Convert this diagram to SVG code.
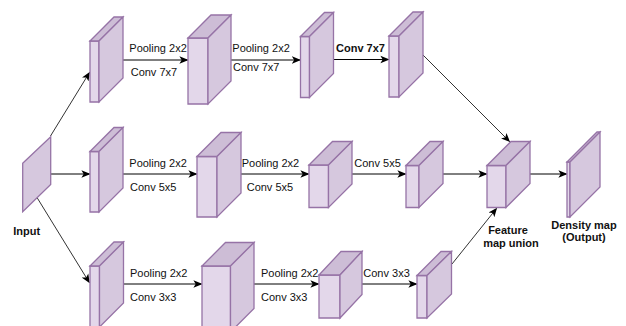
<svg xmlns="http://www.w3.org/2000/svg" width="626" height="326" viewBox="0 0 626 326">
<style>
.f{fill:#E3D7EA;stroke:#9673A6;stroke-width:1.3}
.s{fill:#D6C8DE;stroke:#9673A6;stroke-width:1.3}
.t{fill:#CDBDD6;stroke:#9673A6;stroke-width:1.3}
.lbl{font-family:"Liberation Sans",Arial,sans-serif;font-size:11px;fill:#111}
.b{font-weight:bold}
.c{stroke:#000;stroke-width:1;fill:none;marker-end:url(#ah)}
.d{stroke:#333;stroke-width:1;fill:none;marker-end:url(#ah)}
</style>
<defs>
<marker id="ah" viewBox="0 0 10 10" refX="9" refY="5" markerWidth="9" markerHeight="9" markerUnits="userSpaceOnUse" orient="auto">
<path d="M0,0.8 L10,5 L0,9.2 L2.5,5 Z" fill="#000"/>
</marker>
</defs>
<rect width="626" height="326" fill="#fff"/>

<g id="connectors">
<path class="d" d="M50.5,136 L89.5,72.5"/>
<path class="c" d="M50.7,174 L89.5,174"/>
<path class="d" d="M37.3,198 L89.3,282.5"/>
<path class="c" d="M123,60 L187.5,60"/>
<path class="c" d="M231,60 L300,60"/>
<path class="c" d="M333.5,59.5 L388.5,59.5"/>
<path class="c" d="M123,174 L196.5,174"/>
<path class="c" d="M241,174 L308.5,174"/>
<path class="c" d="M352,174 L405.5,174"/>
<path class="c" d="M443,174 L486.5,174"/>
<path class="c" d="M530,174 L566.5,174"/>
<path class="c" d="M123,284 L201.5,284"/>
<path class="c" d="M254,284 L318.5,284"/>
<path class="c" d="M362,284 L416.5,284"/>
<path class="d" d="M423,55 L509.5,141.5"/>
<path class="d" d="M452,264 L496.5,208.5"/>
</g>

<g id="input">
<path class="s" d="M22.7,163.3 L50.7,136.7 L50.7,184.5 L22.7,211.7 Z"/>
<text class="lbl b" x="13.3" y="235">Input</text>
</g>

<g id="t1">
<path class="f" d="M90,41 H99 V102 H90 Z"/>
<path class="t" d="M90,41 L114,17 H123 L99,41 Z"/>
<path class="s" d="M99,41 L123,17 V78 L99,102 Z"/>
</g>
<g id="t2">
<path class="f" d="M188,38 H208 V104 H188 Z"/>
<path class="t" d="M188,38 L211,15 H231 L208,38 Z"/>
<path class="s" d="M208,38 L231,15 V81 L208,104 Z"/>
</g>
<g id="t3">
<path class="f" d="M300.5,36.5 H309.5 V97.5 H300.5 Z"/>
<path class="t" d="M300.5,36.5 L324.5,12.5 H333.5 L309.5,36.5 Z"/>
<path class="s" d="M309.5,36.5 L333.5,12.5 V73.5 L309.5,97.5 Z"/>
</g>
<g id="t4">
<path class="f" d="M389,36 H399 V97 H389 Z"/>
<path class="t" d="M389,36 L413,12 H423 L399,36 Z"/>
<path class="s" d="M399,36 L423,12 V73 L399,97 Z"/>
</g>

<g id="m1">
<path class="f" d="M90,151.5 H99 V212 H90 Z"/>
<path class="t" d="M90,151.5 L114,127.5 H123 L99,151.5 Z"/>
<path class="s" d="M99,151.5 L123,127.5 V188 L99,212 Z"/>
</g>
<g id="m2">
<path class="f" d="M197,156.5 H217 V217 H197 Z"/>
<path class="t" d="M197,156.5 L221,132.5 H241 L217,156.5 Z"/>
<path class="s" d="M217,156.5 L241,132.5 V193 L217,217 Z"/>
</g>
<g id="m3">
<path class="f" d="M309,165 H328.5 V207.5 H309 Z"/>
<path class="t" d="M309,165 L332.5,141.5 H352 L328.5,165 Z"/>
<path class="s" d="M328.5,165 L352,141.5 V184 L328.5,207.5 Z"/>
</g>
<g id="m4">
<path class="f" d="M406,165.5 H419 V207.5 H406 Z"/>
<path class="t" d="M406,165.5 L430,141.5 H443 L419,165.5 Z"/>
<path class="s" d="M419,165.5 L443,141.5 V183.5 L419,207.5 Z"/>
</g>
<g id="union">
<path class="f" d="M487,165.5 H506 V207.5 H487 Z"/>
<path class="t" d="M487,165.5 L511,141.5 H530 L506,165.5 Z"/>
<path class="s" d="M506,165.5 L530,141.5 V183.5 L506,207.5 Z"/>
<text class="lbl b" x="508" y="234" text-anchor="middle">Feature</text>
<text class="lbl b" x="511" y="246.7" text-anchor="middle">map union</text>
</g>
<g id="output">
<path class="f" d="M567,162 H570 V217 H567 Z"/>
<path class="t" d="M567,162 L597,132 H600 L570,162 Z"/>
<path class="s" d="M570,162 L600,132 V187 L570,217 Z"/>
<text class="lbl b" x="584" y="229" text-anchor="middle">Density map</text>
<text class="lbl b" x="584" y="241.3" text-anchor="middle">(Output)</text>
</g>

<g id="b1">
<path class="f" d="M90,266 H99.5 V327 H90 Z"/>
<path class="t" d="M90,266 L114,242 H123.5 L99.5,266 Z"/>
<path class="s" d="M99.5,266 L123.5,242 V303 L99.5,327 Z"/>
</g>
<g id="b2">
<path class="f" d="M202,266 H230.5 V332 H202 Z"/>
<path class="t" d="M202,266 L225.5,242.5 H254 L230.5,266 Z"/>
<path class="s" d="M230.5,266 L254,242.5 V308.5 L230.5,332 Z"/>
</g>
<g id="b3">
<path class="f" d="M319,275 H340 V318 H319 Z"/>
<path class="t" d="M319,275 L341,251.5 H362 L340,275 Z"/>
<path class="s" d="M340,275 L362,251.5 V294.5 L340,318 Z"/>
</g>
<g id="b4">
<path class="f" d="M417,275.5 H427 V318 H417 Z"/>
<path class="t" d="M417,275.5 L441,251.5 H451.5 L427,275.5 Z"/>
<path class="s" d="M427,275.5 L451.5,251.5 V294 L427,318 Z"/>
</g>

<g id="labels">
<text class="lbl" x="129.3" y="52">Pooling 2x2</text>
<text class="lbl" x="130.7" y="75.5">Conv 7x7</text>
<text class="lbl" x="232.3" y="52">Pooling 2x2</text>
<text class="lbl" x="233" y="70.5">Conv 7x7</text>
<text class="lbl b" x="336" y="52">Conv 7x7</text>
<text class="lbl" x="129.3" y="167.3">Pooling 2x2</text>
<text class="lbl" x="130" y="191.3">Conv 5x5</text>
<text class="lbl" x="241.7" y="167.3">Pooling 2x2</text>
<text class="lbl" x="246.7" y="191.3">Conv 5x5</text>
<text class="lbl" x="354.3" y="167.3">Conv 5x5</text>
<text class="lbl" x="130" y="277.3">Pooling 2x2</text>
<text class="lbl" x="130" y="300.7">Conv 3x3</text>
<text class="lbl" x="261" y="277.3">Pooling 2x2</text>
<text class="lbl" x="261" y="300.7">Conv 3x3</text>
<text class="lbl" x="363.3" y="277.3">Conv 3x3</text>
</g>
</svg>
